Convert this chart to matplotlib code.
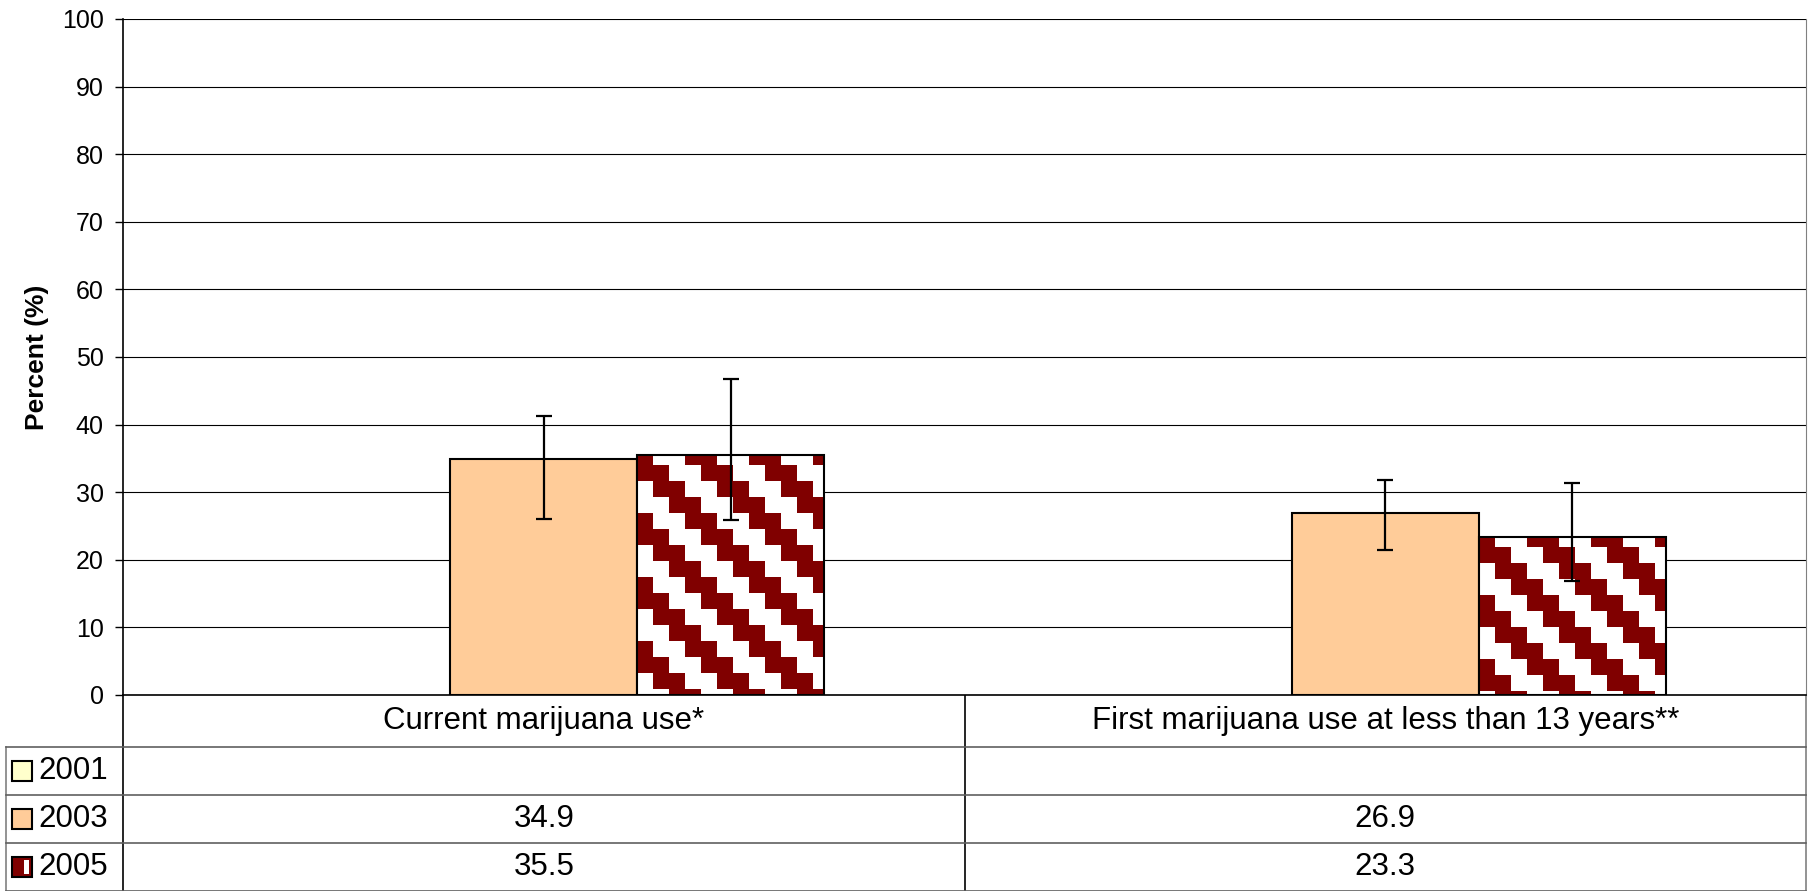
import numpy as np
import matplotlib
matplotlib.use('Agg')
import matplotlib.pyplot as plt
from matplotlib.patches import Rectangle

plt.rcParams['font.family'] = ['Liberation Sans', 'DejaVu Sans']

# data
categories = ['Current marijuana use*', 'First marijuana use at less than 13 years**']
years = ['2001', '2003', '2005']
vals_2001 = [np.nan, np.nan]
vals_2003 = [34.9, 26.9]
vals_2005 = [35.5, 23.3]
lo_2003 = [26.0, 21.5]
hi_2003 = [41.2, 31.8]
lo_2005 = [25.9, 16.8]
hi_2005 = [46.8, 31.4]

c2001 = '#FFFFCC'
c2003 = '#FFCC99'
c2005 = '#800000'

W, H = 1813, 891
fig = plt.figure(figsize=(W / 100, H / 100), dpi=100)

# pixel box of plot area
L, R, T, B = 123, 1806, 19, 695
ax = fig.add_axes([L / W, 1 - B / H, (R - L) / W, (B - T) / H])
ax.set_xlim(-0.5, 1.5)
ax.set_ylim(0, 100)

x = np.arange(len(categories))
bw = 1 / 4.5

ax.bar(x - bw, vals_2001, bw, color=c2001, edgecolor='black', linewidth=1.5, zorder=2)
ax.bar(x, vals_2003, bw, color=c2003, edgecolor='black', linewidth=1.5, zorder=2)
b05 = ax.bar(x + bw, vals_2005, bw, color='white', edgecolor='none', zorder=2)
ax.bar(x + bw, vals_2005, bw, color='none', edgecolor='black', linewidth=1.5, zorder=2.5)


def pattern_fill(bar, cell=16):
    # stepped diagonal pattern (4x4 tile, 16px cells) clipped to the bar
    x0, y0 = bar.get_x(), bar.get_y()
    w, h = bar.get_width(), bar.get_height()
    p0 = ax.transData.transform((x0, y0))
    p1 = ax.transData.transform((x0 + w, y0 + h))
    nx = int(np.ceil((p1[0] - p0[0]) / cell)) + 1
    ny = int(np.ceil((p1[1] - p0[1]) / cell)) + 1
    dx = cell * w / (p1[0] - p0[0])
    dy = cell * h / (p1[1] - p0[1])
    rows, cols = np.indices((ny, nx))
    dark = ((cols - rows + 1) % 4) < 2
    rgb = np.array(matplotlib.colors.to_rgb(c2005))
    img = np.ones((ny, nx, 3))
    img[dark] = rgb
    top = y0 + h + 0.4 * dy
    im = ax.imshow(img, extent=(x0, x0 + nx * dx, top - ny * dy, top),
                   origin='upper', interpolation='nearest', aspect='auto', zorder=2.1)
    im.set_clip_path(bar)


for b in b05:
    pattern_fill(b)

ax.set_xlim(-0.5, 1.5)
ax.set_ylim(0, 100)

# error bars
for xs, v, lo, hi in [(x, vals_2003, lo_2003, hi_2003), (x + bw, vals_2005, lo_2005, hi_2005)]:
    v = np.array(v)
    err = [v - np.array(lo), np.array(hi) - v]
    ax.errorbar(xs, v, yerr=err, fmt='none', ecolor='black', elinewidth=1.6,
                capsize=5.5, capthick=1.6, zorder=3)

ax.set_yticks(np.arange(0, 101, 10))
ax.yaxis.grid(True, color='black', linewidth=0.8)
ax.set_axisbelow(True)
ax.tick_params(axis='y', labelsize=18, length=6, width=1, pad=8)
ax.set_xticks([])
ax.spines['top'].set_visible(False)
ax.spines['right'].set_color('#808080')
ax.spines['left'].set_linewidth(1.2)
ax.spines['bottom'].set_linewidth(1.2)
ax.set_ylabel('Percent (%)', fontsize=19, fontweight='bold', labelpad=9)

# data table drawn in pixel coordinates
tab = fig.add_axes([0, 0, 1, 1], zorder=-1)
tab.set_xlim(0, W)
tab.set_ylim(H, 0)
tab.axis('off')
rows_y = [695, 747, 795, 843, 891]
mid = (L + R) / 2
tab.plot([L, L], [695, 891], color='black', lw=1.2)
tab.plot([mid, mid], [695, 891], color='black', lw=1.2)
tab.plot([R, R], [695, 891], color='#808080', lw=1.2)
tab.plot([6, 6], [747, 891], color='#808080', lw=1.2)
for yy in rows_y[1:]:
    tab.plot([6, R], [yy, yy], color='#606060', lw=1.2)

fs = 22.5
tab.text((L + mid) / 2, 721, categories[0], ha='center', va='center', fontsize=fs)
tab.text((mid + R) / 2, 721, categories[1], ha='center', va='center', fontsize=fs)

series = [vals_2001, vals_2003, vals_2005]
colors = [c2001, c2003, c2005]
for i, (yr, vals, col) in enumerate(zip(years, series, colors)):
    yc = (rows_y[i + 1] + rows_y[i + 2]) / 2
    tab.add_patch(Rectangle((12, yc - 10), 20, 20, facecolor=col, edgecolor='black', lw=1.5))
    if yr == '2005':
        tab.add_patch(Rectangle((24, yc - 7), 5, 14, facecolor='white', edgecolor='none'))
    tab.text(38, yc, yr, ha='left', va='center', fontsize=fs)
    for j, v in enumerate(vals):
        if not np.isnan(v):
            cx = (L + mid) / 2 if j == 0 else (mid + R) / 2
            tab.text(cx, yc, f'{v:.1f}', ha='center', va='center', fontsize=fs)

fig.savefig('out.png', dpi=100)
